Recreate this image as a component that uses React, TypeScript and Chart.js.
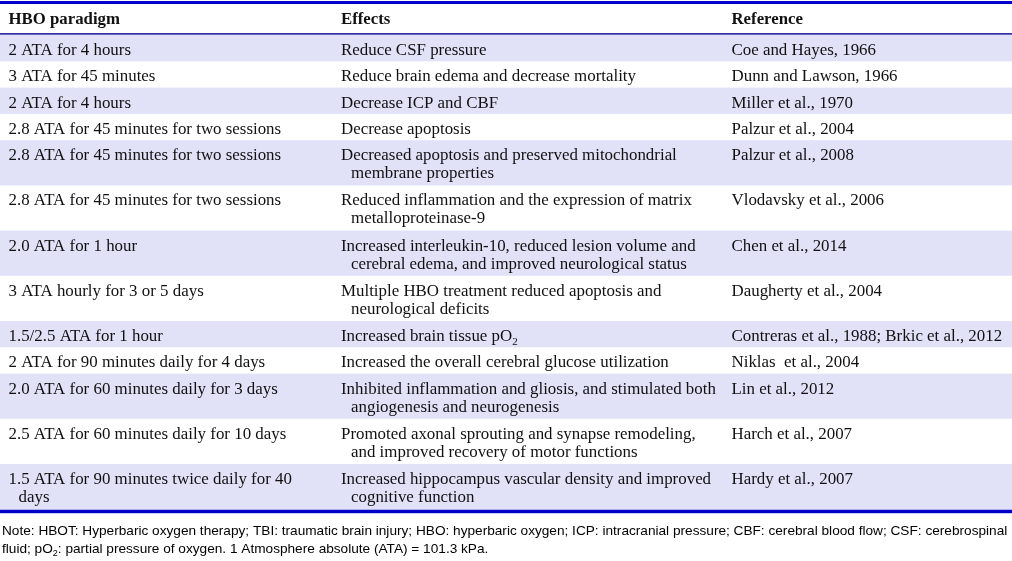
import React, { useEffect, useRef } from "react";
import { Chart, registerables } from "chart.js";

Chart.register(...registerables);

const headers = ["HBO paradigm", "Effects", "Reference"];

const paradigms = [
  "2 ATA for 4 hours",
  "3 ATA for 45 minutes",
  "2 ATA for 4 hours",
  "2.8 ATA for 45 minutes for two sessions",
  "2.8 ATA for 45 minutes for two sessions",
  "2.8 ATA for 45 minutes for two sessions",
  "2.0 ATA for 1 hour",
  "3 ATA hourly for 3 or 5 days",
  "1.5/2.5 ATA for 1 hour",
  "2 ATA for 90 minutes daily for 4 days",
  "2.0 ATA for 60 minutes daily for 3 days",
  "2.5 ATA for 60 minutes daily for 10 days",
  "1.5 ATA for 90 minutes twice daily for 40\ndays",
];

const effects = [
  "Reduce CSF pressure",
  "Reduce brain edema and decrease mortality",
  "Decrease ICP and CBF",
  "Decrease apoptosis",
  "Decreased apoptosis and preserved mitochondrial\nmembrane properties",
  "Reduced inflammation and the expression of matrix\nmetalloproteinase-9",
  "Increased interleukin-10, reduced lesion volume and\ncerebral edema, and improved neurological status",
  "Multiple HBO treatment reduced apoptosis and\nneurological deficits",
  "Increased brain tissue pO_2",
  "Increased the overall cerebral glucose utilization",
  "Inhibited inflammation and gliosis, and stimulated both\nangiogenesis and neurogenesis",
  "Promoted axonal sprouting and synapse remodeling,\nand improved recovery of motor functions",
  "Increased hippocampus vascular density and improved\ncognitive function",
];

const references = [
  "Coe and Hayes, 1966",
  "Dunn and Lawson, 1966",
  "Miller et al., 1970",
  "Palzur et al., 2004",
  "Palzur et al., 2008",
  "Vlodavsky et al., 2006",
  "Chen et al., 2014",
  "Daugherty et al., 2004",
  "Contreras et al., 1988; Brkic et al., 2012",
  "Niklas  et al., 2004",
  "Lin et al., 2012",
  "Harch et al., 2007",
  "Hardy et al., 2007",
];

const noteLines = [
  "Note: HBOT: Hyperbaric oxygen therapy; TBI: traumatic brain injury; HBO: hyperbaric oxygen; ICP: intracranial pressure; CBF: cerebral blood flow; CSF: cerebrospinal",
  "fluid; pO_2: partial pressure of oxygen. 1 Atmosphere absolute (ATA) = 101.3 kPa.",
];

// ---- layout / style (in scale units) ----
const W = 1012;
const H = 561;
const COL_X = [8.5, 341, 731.5];
const INDENT = 10;
const ROWS_TOP = 35;
const ROW_BASE = 26.3;
const ROW_EXTRA = 18.9;
const LINE_GAP = 18;
const FIRST_BASELINE = 20;
const HEADER_BASELINE = 23.5;
const NOTE_BASELINES = [534.5, 552.5];
const NOTE_X = 2;
const SERIF = '"Liberation Serif", "Times New Roman", serif';
const SANS = '"Liberation Sans", Arial, sans-serif';
const BODY_SIZE = 16.9;
const HEAD_SIZE = 16.8;
const NOTE_SIZE = 13.65;
const BLUE = "#0000c8";
const DARK_BLUE = "#00008c";
const SHADE = "#e1e1f8";
const TEXT = "#111111";

function drawRich(ctx: CanvasRenderingContext2D, text: string, x: number, y: number, size: number, family: string, weight = "") {
  const parts = text.split(/(_\w)/);
  let cx = x;
  for (const p of parts) {
    if (!p) continue;
    if (p.startsWith("_")) {
      const s = p.slice(1);
      ctx.font = `${weight}${Math.round(size * 0.65)}px ${family}`;
      ctx.fillText(s, cx, y + size * 0.25);
      cx += ctx.measureText(s).width;
    } else {
      ctx.font = `${weight}${size}px ${family}`;
      ctx.fillText(p, cx, y);
      cx += ctx.measureText(p).width;
    }
  }
}

const tablePlugin = {
  id: "tablePlugin",
  afterDraw(chart: any) {
    const ctx: CanvasRenderingContext2D = chart.ctx;
    const xs = chart.scales.x;
    const ys = chart.scales.y;
    const px = (v: number) => xs.getPixelForValue(v);
    const py = (v: number) => ys.getPixelForValue(v);
    ctx.save();

    // row bands
    let top = ROWS_TOP;
    const tops: number[] = [];
    for (let i = 0; i < paradigms.length; i++) {
      const lines = Math.max(
        paradigms[i].split("\n").length,
        effects[i].split("\n").length,
        references[i].split("\n").length
      );
      const h = ROW_BASE + (lines - 1) * ROW_EXTRA;
      tops.push(top);
      if (i % 2 === 0) {
        ctx.fillStyle = SHADE;
        ctx.fillRect(px(0), py(top), px(W) - px(0), py(top + h) - py(top));
      }
      top += h;
    }
    const bottom = top;

    // rules
    ctx.fillStyle = BLUE;
    ctx.fillRect(px(0), py(1), px(W) - px(0), py(4) - py(1));
    ctx.fillStyle = DARK_BLUE;
    ctx.fillRect(px(0), py(33.2), px(W) - px(0), py(34.6) - py(33.2));
    ctx.fillStyle = BLUE;
    ctx.fillRect(px(0), py(bottom + 0.5), px(W) - px(0), py(bottom + 4) - py(bottom + 0.5));

    // header
    ctx.fillStyle = TEXT;
    ctx.textBaseline = "alphabetic";
    ctx.textAlign = "left";
    headers.forEach((h, c) => {
      drawRich(ctx, h, px(COL_X[c]), py(HEADER_BASELINE), HEAD_SIZE, SERIF, "bold ");
    });

    // cells
    const cols = [paradigms, effects, references];
    for (let i = 0; i < paradigms.length; i++) {
      cols.forEach((col, c) => {
        col[i].split("\n").forEach((ln, k) => {
          drawRich(ctx, ln, px(COL_X[c] + (k > 0 ? INDENT : 0)), py(tops[i] + FIRST_BASELINE + k * LINE_GAP), BODY_SIZE, SERIF);
        });
      });
    }

    // note
    ctx.fillStyle = "#000000";
    noteLines.forEach((ln, k) => {
      drawRich(ctx, ln, px(NOTE_X), py(NOTE_BASELINES[k]), NOTE_SIZE, SANS);
    });
    ctx.restore();
  },
};

export default function App() {
  const ref = useRef<HTMLCanvasElement | null>(null);
  useEffect(() => {
    document.body.style.margin = "0";
    const canvas = ref.current;
    if (!canvas) return;
    const chart = new Chart(canvas, {
      type: "scatter",
      data: { datasets: [] },
      options: {
        animation: false,
        responsive: false,
        devicePixelRatio: 1,
        layout: { padding: 0 },
        scales: {
          x: { type: "linear", min: 0, max: W, display: false },
          y: { type: "linear", min: 0, max: H, reverse: true, display: false },
        },
        plugins: { legend: { display: false }, tooltip: { enabled: false } },
      },
      plugins: [tablePlugin],
    });
    return () => chart.destroy();
  }, []);
  return (
    <div style={{ position: "fixed", left: 0, top: 0, width: W, height: H, background: "#fff" }}>
      <canvas ref={ref} width={W} height={H} style={{ display: "block" }} />
    </div>
  );
}
